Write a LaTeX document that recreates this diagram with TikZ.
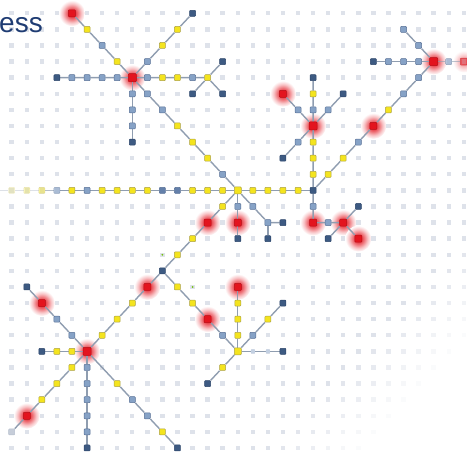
\documentclass[tikz,border=0pt]{standalone}
\usepackage{fontspec}
\setmainfont{Liberation Sans}
\definecolor{cY}{RGB}{244,228,30}
\definecolor{cYd}{RGB}{170,160,70}
\definecolor{cB}{RGB}{134,162,198}
\definecolor{cBm}{RGB}{100,128,170}
\definecolor{cBd}{RGB}{88,112,150}
\definecolor{cD}{RGB}{61,90,130}
\definecolor{cDd}{RGB}{44,69,106}
\definecolor{cR}{RGB}{227,20,30}
\definecolor{cL}{RGB}{143,157,176}
\definecolor{cDot}{RGB}{222,226,234}
\definecolor{cT}{RGB}{31,60,115}
\pgfdeclareradialshading{glow}{\pgfpoint{0bp}{0bp}}{color(0bp)=(cR); color(5bp)=(cR!88!white); color(11bp)=(cR!60!white); color(18bp)=(cR!25!white); color(25bp)=(white); color(50bp)=(white)}
\pgfdeclarelayer{glowl}\pgfdeclarelayer{dotl}\pgfdeclarelayer{edgel}
\pgfsetlayers{glowl,dotl,edgel,main}
\tikzset{
  nd/.style={rectangle, inner sep=0pt, minimum size=6pt, line width=0.5pt, rounded corners=0.8pt},
  yel/.style={nd, fill=cY, draw=cYd},
  blu/.style={nd, fill=cB, draw=cBd},
  blm/.style={nd, fill=cBm, draw=cBd},
  dkb/.style={nd, fill=cD, draw=cDd},
  rnode/.style={nd, minimum size=7pt, fill=cR, draw=cR!80!black},
  hub/.style={minimum size=8pt},
  tinyd/.style={circle, inner sep=0pt, minimum size=2pt, fill=cY!60!green!80!black},
  link/.style={draw=cL, line width=1.4pt},
}
\begin{document}
\begin{tikzpicture}[x=15.07pt,y=-16.1pt]
\useasboundingbox (-11.7pt,13.3pt) rectangle (455.3pt,-438.7pt);
\node[anchor=base west, inner sep=0pt, font=\fontsize{28}{30}\selectfont, text=cT] (title) at (-12.7pt,-19.7pt) {ess};
% grid dots
\begin{pgfonlayer}{dotl}
\foreach \c in {0,...,30}{\foreach \r in {0,...,27}{
  \pgfmathsetmacro\op{max(0,min(1,(51-\c-\r)/7))}
  \fill[cDot, opacity=\op] ([shift={(-2.2pt,2.2pt)}]\c,\r) rectangle +(4.4pt,-4.4pt);
}}
\end{pgfonlayer}
% nodes
\foreach \c/\r in {5/1,7/3,10/2,11/1,10/4,11/4,13/4,11/7,12/8,13/9,4/11,6/11,7/11,8/11,9/11,12/11,13/11,14/11,16/11,17/11,18/11,19/11,14/12,12/14,11/15,8/18,7/19,6/20,4/22,3/23,2/24,4/21,3/21,7/23,10/26,11/17,12/18,14/22,15/18,15/19,15/20,17/19,20/10,20/9,20/8,20/5,21/10,22/9,25/6}
  \node[yel] (n\c-\r) at (\c,\r) {};
\node[yel, minimum size=7pt] (n15-11) at (15,11) {};
\node[yel, minimum size=7pt] (n15-21) at (15,21) {};
\foreach \c/\r in {6/2,9/3,7/4,6/4,5/4,4/4,9/4,12/4,8/5,8/6,8/7,9/5,10/6,14/10,5/11,15/12,16/12,17/13,4/20,3/19,5/22,5/23,5/24,5/25,5/26,8/24,9/25,14/20,16/20,20/6,19/6,21/6,19/8,23/8,26/5,27/4,27/3,26/3,25/3,27/2,26/1,20/12,21/13}
  \node[blu] (n\c-\r) at (\c,\r) {};
\foreach \c/\r in {10/11,11/11}
  \node[blm] (n\c-\r) at (\c,\r) {};
\foreach \c/\r in {12/0,3/4,14/3,12/5,14/5,8/8,10/16,15/14,18/13,17/14,2/21,1/17,11/27,13/23,18/18,18/21,20/4,22/5,18/9,20/11,24/3,23/12,21/14,5/27}
  \node[dkb] (n\c-\r) at (\c,\r) {};
\foreach \c/\r in {4/0,18/5,24/7,13/13,15/13,20/13,22/13,23/14,9/17,2/18,13/19,15/17,1/25}
  \node[rnode] (n\c-\r) at (\c,\r) {};
\foreach \c/\r in {8/4,5/21,20/7,28/3}
  \node[rnode,hub] (n\c-\r) at (\c,\r) {};
% faint nodes
\node[rnode, opacity=0.55] (n30-3) at (30,3) {};
\node[blu, opacity=0.6] (n29-3) at (29,3) {};
\node[yel, opacity=0.2] (n0-11) at (0,11) {};
\node[yel, opacity=0.3] (n1-11) at (1,11) {};
\node[yel, opacity=0.45] (n2-11) at (2,11) {};
\node[blu, opacity=0.6] (n3-11) at (3,11) {};
\node[nd, fill=cDot!70!cL, draw=cDot!50!cL] (n0-26) at (0,26) {};
\node[nd, fill=cB!50!white, draw=none, minimum size=4pt] (n16-21) at (16,21) {};
\node[nd, fill=cB!50!white, draw=none, minimum size=4pt] (n17-21) at (17,21) {};
\node[tinyd] (t1) at (10,15) {};
\node[tinyd] (t2) at (12,17) {};
\coordinate (lend) at (-0.78,11);
% glows
\begin{pgfonlayer}{glowl}
\foreach \n in {n4-0,n8-4,n18-5,n20-7,n24-7,n28-3,n13-13,n15-13,n20-13,n22-13,n23-14,n9-17,n2-18,n5-21,n13-19,n15-17,n1-25}
  \shade[shading=glow] (\n) circle (13pt);
\shade[shading=glow, opacity=0.5] (n30-3) circle (11pt);
\end{pgfonlayer}
% edges
\begin{pgfonlayer}{edgel}
\draw[link] (n4-0)--(n5-1)--(n6-2)--(n7-3)--(n8-4)--(n9-5)--(n10-6)--(n11-7)--(n12-8)--(n13-9)--(n14-10)--(n15-11);
\draw[link] (n8-4)--(n9-3)--(n10-2)--(n11-1)--(n12-0);
\draw[link] (n3-4)--(n4-4)--(n5-4)--(n6-4)--(n7-4)--(n8-4)--(n9-4)--(n10-4)--(n11-4)--(n12-4)--(n13-4)--(n14-3);
\draw[link] (n12-5)--(n13-4)--(n14-5);
\draw[link] (n8-4)--(n8-5)--(n8-6)--(n8-7)--(n8-8);
\draw[link, opacity=0.3] (lend)--(n0-11)--(n1-11)--(n2-11);
\draw[link, opacity=0.65] (n2-11)--(n3-11);
\draw[link] (n3-11)--(n4-11)--(n5-11)--(n6-11)--(n7-11)--(n8-11)--(n9-11)--(n10-11)--(n11-11)--(n12-11)--(n13-11)--(n14-11)--(n15-11)--(n16-11)--(n17-11)--(n18-11)--(n19-11)--(n20-11);
\draw[link] (n15-11)--(n15-12)--(n15-13)--(n15-14);
\draw[link] (n15-11)--(n14-12)--(n13-13)--(n12-14)--(n11-15)--(n10-16)--(n9-17)--(n8-18)--(n7-19)--(n6-20)--(n5-21)--(n4-22)--(n3-23)--(n2-24)--(n1-25)--(n0-26);
\draw[link] (n15-11)--(n16-12)--(n17-13)--(n18-13);
\draw[link] (n17-13)--(n17-14);
\draw[link] (n10-16)--(n11-17)--(n12-18)--(n13-19)--(n14-20)--(n15-21)--(n14-22)--(n13-23);
\draw[link] (n1-17)--(n2-18)--(n3-19)--(n4-20)--(n5-21)--(n7-23)--(n8-24)--(n9-25)--(n10-26)--(n11-27);
\draw[link] (n2-21)--(n3-21)--(n4-21)--(n5-21);
\draw[link] (n5-21)--(n5-22)--(n5-23)--(n5-24)--(n5-25)--(n5-26)--(n5-27);
\draw[link] (n15-17)--(n15-18)--(n15-19)--(n15-20)--(n15-21);
\draw[link] (n15-21)--(n16-21)--(n17-21)--(n18-21);
\draw[link] (n15-21)--(n16-20)--(n17-19)--(n18-18);
\draw[link] (n20-4)--(n20-5)--(n20-6)--(n20-7)--(n20-8)--(n20-9)--(n20-10)--(n20-11)--(n20-12)--(n20-13)--(n21-13)--(n22-13)--(n23-12);
\draw[link] (n22-13)--(n23-14);
\draw[link] (n22-13)--(n21-14);
\draw[link] (n18-5)--(n19-6)--(n20-7)--(n21-6)--(n22-5);
\draw[link] (n20-7)--(n19-8)--(n18-9);
\draw[link] (n20-11)--(n21-10)--(n22-9)--(n23-8)--(n24-7)--(n25-6)--(n26-5)--(n27-4)--(n28-3)--(n27-2)--(n26-1);
\draw[link] (n24-3)--(n25-3)--(n26-3)--(n27-3)--(n28-3);
\draw[link, opacity=0.6] (n28-3)--(n29-3)--(n30-3);
\end{pgfonlayer}
\end{tikzpicture}
\end{document}
